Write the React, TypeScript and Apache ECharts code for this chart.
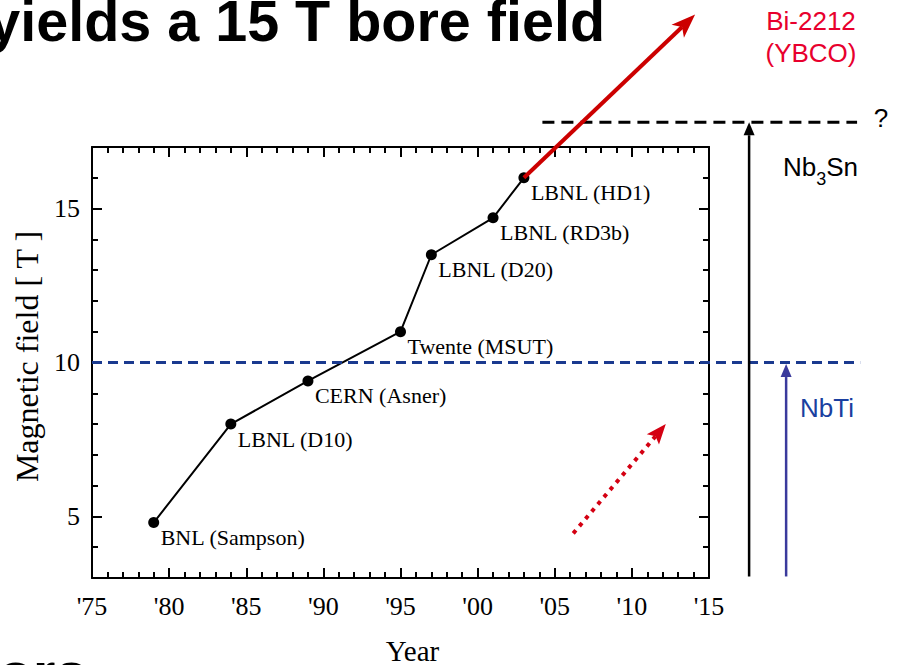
import React, { useEffect, useRef } from "react";
import * as echarts from "echarts";

// ---- data ----
const years = [1979, 1984, 1989, 1995, 1997, 2001, 2003];
const fields = [4.8, 8.0, 9.4, 11.0, 13.5, 14.7, 16.0];
const magnetNames = [
  "BNL (Sampson)",
  "LBNL (D10)",
  "CERN (Asner)",
  "Twente (MSUT)",
  "LBNL (D20)",
  "LBNL (RD3b)",
  "LBNL (HD1)",
];
const yearRange = [1975, 2015];
const fieldRange = [3, 17];
const nbtiLimit = 10; // T
const nb3snLimit = 17.8; // T (dashed line above the plot)
// annotation anchor points in data units [year, field]
const htsArrowTip = [2014.1, 21.3];
const trendArrowStart = [2006.2, 4.45];
const trendArrowTip = [2012.2, 8.0];
const nbtiLineEnd = 2024.8;
const nb3snLineStart = 2004.2;
const nb3snLineEnd = 2024.6;
const nb3snArrowX = 2017.6;
const nbtiArrowX = 2020.0;
const arrowBaseField = 3.05;

const SERIF = "'Liberation Serif', 'Times New Roman', serif";
const SANS = "'Liberation Sans', Arial, sans-serif";

function arrowHead(tip: number[], from: number[], len: number, half: number, notch: number) {
  const dx = tip[0] - from[0];
  const dy = tip[1] - from[1];
  const d = Math.hypot(dx, dy);
  const ux = dx / d, uy = dy / d;
  const px = -uy, py = ux;
  const bx = tip[0] - ux * len, by = tip[1] - uy * len;
  const nx = tip[0] - ux * (len - notch), ny = tip[1] - uy * (len - notch);
  return {
    points: [tip, [bx + px * half, by + py * half], [nx, ny], [bx - px * half, by - py * half]],
    neck: [nx, ny],
  };
}

function makeAxisCommon() {
  return {
    axisLine: { show: true, onZero: false, lineStyle: { color: "#000", width: 2 } },
    axisTick: { show: true, inside: true, length: 10, lineStyle: { color: "#000", width: 2 } },
    minorTick: { show: true, splitNumber: 5, length: 6, lineStyle: { color: "#000", width: 2 } },
    splitLine: { show: false },
    minorSplitLine: { show: false },
  };
}

export default function App() {
  const ref = useRef<HTMLDivElement>(null);

  useEffect(() => {
    if (!ref.current) return;
    const chart = echarts.init(ref.current, null, { renderer: "svg" });
    const common = makeAxisCommon();
    const xBase = { type: "value", min: yearRange[0], max: yearRange[1], interval: 5, ...common };
    const yBase = {
      type: "value",
      min: fieldRange[0],
      max: fieldRange[1],
      splitNumber: 3,
      minInterval: 5,
      maxInterval: 5,
      ...common,
    };
    chart.setOption({
      animation: false,
      backgroundColor: "#fff",
      grid: { left: 92, right: 188, top: 147, bottom: 87, containLabel: false, outerBoundsMode: "none" },
      xAxis: [
        {
          ...xBase,
          position: "bottom",
          name: "Year",
          nameLocation: "middle",
          nameGap: 58,
          nameTextStyle: { fontFamily: SERIF, fontSize: 29, color: "#000", padding: [0, 0, 0, 24] },
          axisLabel: {
            margin: 15,
            fontFamily: SERIF,
            fontSize: 26,
            color: "#000",
            formatter: (v: number) => "'" + String(v).slice(2),
          },
        },
        { ...xBase, position: "top", axisLabel: { show: false } },
      ],
      yAxis: [
        {
          ...yBase,
          position: "left",
          name: "Magnetic field [ T ]",
          nameLocation: "middle",
          nameGap: 36,
          nameRotate: 90,
          nameTextStyle: { fontFamily: SERIF, fontSize: 32, color: "#000", padding: [0, 0, 0, 12] },
          axisLabel: {
            margin: 12,
            fontFamily: SERIF,
            fontSize: 26,
            color: "#000",
            formatter: (v: number) => (v % 5 === 0 ? String(v) : ""),
          },
        },
        { ...yBase, position: "right", axisLabel: { show: false } },
      ],
      series: [
        {
          type: "line",
          xAxisIndex: 0,
          yAxisIndex: 0,
          data: years.map((y, i) => [y, fields[i]]),
          symbol: "circle",
          symbolSize: 11,
          itemStyle: { color: "#000" },
          lineStyle: { color: "#000", width: 2 },
          z: 5,
          label: {
            show: true,
            position: [12.5, 20.5],
            align: "left",
            verticalAlign: "middle",
            fontFamily: SERIF,
            fontSize: 22,
            color: "#000",
            formatter: (p: any) => magnetNames[p.dataIndex],
          },
        },
      ],
    });

    const px = (p: number[]) => chart.convertToPixel({ gridIndex: 0 }, p) as number[];

    const graphics: any[] = [];
    // title fragments (slide text cut off by the picture's edges)
    const titleSize = 57.5;
    const centralShift = 0.3465 * titleSize;
    graphics.push({
      type: "text",
      x: 605,
      y: 41 - centralShift,
      style: { text: "yields a 15 T bore field", fontFamily: SANS, fontWeight: "bold", fontSize: titleSize, fill: "#000", align: "right", verticalAlign: "middle" },
    });
    graphics.push({
      type: "text",
      x: -2,
      y: 693 - centralShift,
      style: { text: "ors", fontFamily: SANS, fontWeight: "bold", fontSize: titleSize, fill: "#000", align: "left", verticalAlign: "middle" },
    });

    // NbTi dashed line
    const nbA = px([yearRange[0], nbtiLimit]);
    const nbB = px([nbtiLineEnd, nbtiLimit]);
    graphics.push({ type: "line", z: 10, shape: { x1: nbA[0], y1: nbA[1], x2: nbB[0], y2: nbB[1] }, style: { stroke: "#1a3a8f", lineWidth: 3, lineDash: [10, 6] } });

    // Nb3Sn dashed line
    const snA = px([nb3snLineStart, nb3snLimit]);
    const snB = px([nb3snLineEnd, nb3snLimit]);
    graphics.push({ type: "line", z: 10, shape: { x1: snA[0], y1: snA[1], x2: snB[0], y2: snB[1] }, style: { stroke: "#000", lineWidth: 3, lineDash: [12, 7] } });

    // vertical Nb3Sn arrow
    const vA0 = px([nb3snArrowX, arrowBaseField]);
    const vA1 = px([nb3snArrowX, nb3snLimit]);
    const hA = arrowHead(vA1, vA0, 13, 5.5, 0);
    graphics.push({ type: "line", z: 10, shape: { x1: vA0[0], y1: vA0[1], x2: hA.neck[0], y2: hA.neck[1] }, style: { stroke: "#000", lineWidth: 2.5 } });
    graphics.push({ type: "polygon", z: 10, shape: { points: hA.points }, style: { fill: "#000" } });

    // vertical NbTi arrow
    const vB0 = px([nbtiArrowX, arrowBaseField]);
    const vB1 = px([nbtiArrowX, nbtiLimit - 0.05]);
    const hB = arrowHead(vB1, vB0, 13, 5.5, 0);
    graphics.push({ type: "line", z: 10, shape: { x1: vB0[0], y1: vB0[1], x2: hB.neck[0], y2: hB.neck[1] }, style: { stroke: "#3a3a9c", lineWidth: 2.5 } });
    graphics.push({ type: "polygon", z: 10, shape: { points: hB.points }, style: { fill: "#3a3a9c" } });

    // HTS red arrow from HD1
    const rA = px([years[years.length - 1], fields[fields.length - 1]]);
    const rB = px(htsArrowTip);
    const hR = arrowHead(rB, rA, 24, 9, 6);
    graphics.push({ type: "line", z: 10, shape: { x1: rA[0], y1: rA[1], x2: hR.neck[0], y2: hR.neck[1] }, style: { stroke: "#cc0000", lineWidth: 4 } });
    graphics.push({ type: "polygon", z: 10, shape: { points: hR.points }, style: { fill: "#cc0000" } });

    // dotted red trend arrow
    const dA = px(trendArrowStart);
    const dB = px(trendArrowTip);
    const hD = arrowHead(dB, dA, 20, 8, 4);
    graphics.push({ type: "line", z: 10, shape: { x1: dA[0], y1: dA[1], x2: hD.neck[0], y2: hD.neck[1] }, style: { stroke: "#d40012", lineWidth: 4, lineDash: [4, 5.5] } });
    graphics.push({ type: "polygon", z: 10, shape: { points: hD.points }, style: { fill: "#d40012" } });

    // right-hand labels
    graphics.push({ type: "text", x: 811, y: 21, style: { text: "Bi-2212", fontFamily: SANS, fontSize: 26, fill: "#e8002d", align: "center", verticalAlign: "middle" } });
    graphics.push({ type: "text", x: 811, y: 53, style: { text: "(YBCO)", fontFamily: SANS, fontSize: 26, fill: "#e8002d", align: "center", verticalAlign: "middle" } });
    graphics.push({ type: "text", x: 881, y: 118, style: { text: "?", fontFamily: SANS, fontSize: 26, fill: "#000", align: "center", verticalAlign: "middle" } });
    graphics.push({
      type: "text",
      x: 783,
      y: 167,
      style: {
        text: "{a|Nb}{s|3}{a|Sn}",
        align: "left",
        verticalAlign: "middle",
        rich: {
          a: { fontFamily: SANS, fontSize: 26, fill: "#000", color: "#000", lineHeight: 30, verticalAlign: "middle" },
          s: { fontFamily: SANS, fontSize: 18, fill: "#000", color: "#000", lineHeight: 30, verticalAlign: "bottom", padding: [0, 0, -6, 0] },
        },
      },
    });
    graphics.push({ type: "text", x: 800, y: 408, style: { text: "NbTi", fontFamily: SANS, fontSize: 26, fill: "#1a3fa0", align: "left", verticalAlign: "middle" } });

    chart.setOption({ graphic: graphics });

    return () => chart.dispose();
  }, []);

  return (
    <div
      ref={ref}
      style={{ position: "fixed", left: 0, top: 0, width: 897, height: 665, background: "#fff" }}
    />
  );
}
